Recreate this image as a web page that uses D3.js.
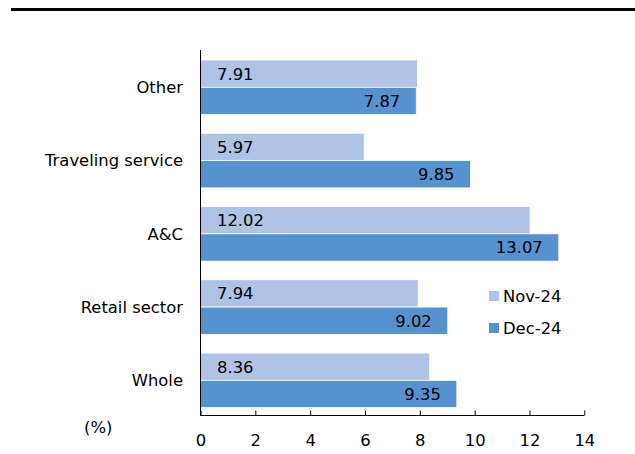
<!DOCTYPE html>
<html>
<head>
<meta charset="utf-8">
<script src="https://cdn.jsdelivr.net/npm/d3@7"></script>
<style>
  html, body { margin: 0; padding: 0; background: #fff; }
  svg { display: block; }
  text { font-family: "DejaVu Sans", Verdana, sans-serif; fill: #000; }
</style>
</head>
<body>
<script>
// Categories, top to bottom
const categories = ["Other", "Traveling service", "A&C", "Retail sector", "Whole"];
// Series values (%)
const nov24 = [7.91, 5.97, 12.02, 7.94, 8.36];
const dec24 = [7.87, 9.85, 13.07, 9.02, 9.35];
const seriesNames = ["Nov-24", "Dec-24"];
const xTicks = [0, 2, 4, 6, 8, 10, 12, 14];

const W = 635, H = 454;
const colors = ["#AEC3E5", "#5592CF"];
const fontSize = 16.4;

const svg = d3.select("body").append("svg").attr("width", W).attr("height", H);

// Rule across the top
svg.append("rect").attr("x", 11).attr("y", 8).attr("width", W - 11).attr("height", 3).attr("fill", "#000");

const x = d3.scaleLinear().domain([0, 14]).range([200.5, 584.3]);
const y = d3.scaleBand().domain(categories).range([50.7, 416.95]).paddingInner(0.2546).paddingOuter(0.127);
const sub = d3.scaleBand().domain(seriesNames).range([0, y.bandwidth()]);

const rows = categories.map((c, i) => ({ c, vals: [nov24[i], dec24[i]] }));

const g = svg.append("g");
const grp = g.selectAll("g.cat").data(rows).enter().append("g")
  .attr("transform", d => `translate(0,${y(d.c)})`);

grp.selectAll("rect").data(d => d.vals.map((v, k) => ({ v, k }))).enter().append("rect")
  .attr("x", x(0))
  .attr("y", d => sub(seriesNames[d.k]))
  .attr("width", d => x(d.v) - x(0))
  .attr("height", sub.bandwidth())
  .attr("fill", d => colors[d.k])
  .attr("stroke", "#fff").attr("stroke-width", 0.8);

// Value labels: Nov-24 at the inner start, Dec-24 at the inner end
grp.selectAll("text.val").data(d => d.vals.map((v, k) => ({ v, k }))).enter().append("text")
  .attr("class", "val")
  .attr("x", d => d.k === 0 ? x(0) + 16.5 : x(d.v) - 16)
  .attr("y", d => sub(seriesNames[d.k]) + sub.bandwidth() / 2)
  .attr("dy", "0.36em")
  .attr("text-anchor", d => d.k === 0 ? "start" : "end")
  .attr("font-size", fontSize)
  .text(d => d.v.toFixed(2));

// Category labels
svg.selectAll("text.cat").data(categories).enter().append("text")
  .attr("class", "cat")
  .attr("x", 183)
  .attr("y", d => y(d) + y.bandwidth() / 2)
  .attr("dy", "0.36em")
  .attr("text-anchor", "end")
  .attr("font-size", fontSize)
  .text(d => d);

// Value axis
const axisY = 415.5;
const xAxis = d3.axisBottom(x).tickValues(xTicks).tickSize(-5).tickPadding(19).tickFormat(d3.format("d"));
const ax = svg.append("g").attr("transform", `translate(0,${axisY})`).call(xAxis);
ax.select(".domain").attr("stroke", "#000").attr("d", `M${x(0)},0H${x(14)}`);
ax.selectAll(".tick line").attr("stroke", "#000");
ax.selectAll(".tick text").attr("font-size", fontSize).attr("font-family", "DejaVu Sans, Verdana, sans-serif").attr("fill", "#000");

// Category axis line
svg.append("line").attr("x1", x(0)).attr("x2", x(0)).attr("y1", 50).attr("y2", axisY).attr("stroke", "#000");

// Unit label
svg.append("text").attr("x", 84).attr("y", 427).attr("dy", "0.36em").attr("font-size", fontSize).text("(%)");

// Legend
const lg = svg.append("g");
seriesNames.forEach((s, k) => {
  const cy = 296 + k * 32;
  lg.append("rect").attr("x", 489).attr("y", cy - 5).attr("width", 10).attr("height", 10).attr("fill", colors[k]);
  lg.append("text").attr("x", 503).attr("y", cy).attr("dy", "0.36em").attr("font-size", fontSize).text(s);
});
</script>
</body>
</html>
